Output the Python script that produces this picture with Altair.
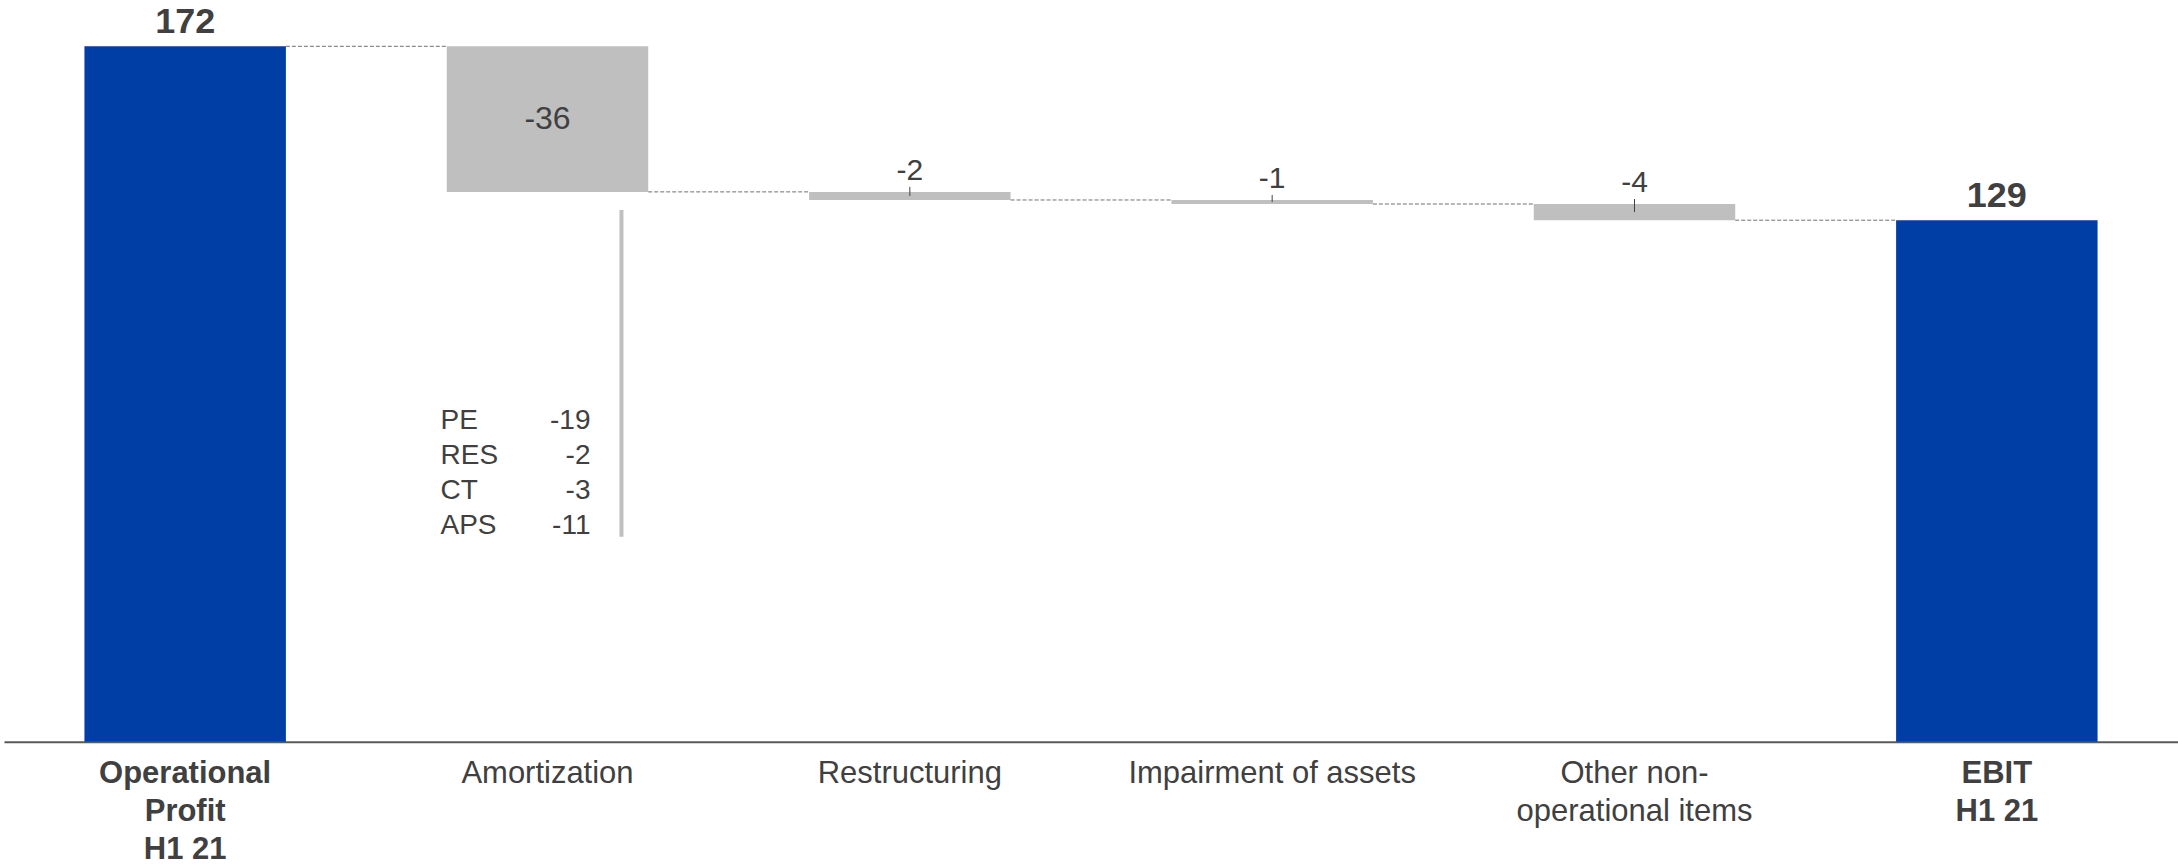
import altair as alt
import pandas as pd

# ---------------- data ----------------
categories = ["Operational\nProfit\nH1 21", "Amortization", "Restructuring",
              "Impairment of assets", "Other non-\noperational items", "EBIT\nH1 21"]
values = [172, -36, -2, -1, -4, 129]
kinds = ["total", "delta", "delta", "delta", "delta", "total"]

breakdown_names = ["PE", "RES", "CT", "APS"]
breakdown_values = [-19, -2, -3, -11]

# ---------------- waterfall table ----------------
rows = []
running = 0
for c, v, k in zip(categories, values, kinds):
    if k == "total":
        start, end = 0, v
    else:
        start, end = running, running + v
    running = end
    rows.append(dict(cat=c, value=v, kind=k, start=start, end=end,
                     top=max(start, end), bottom=min(start, end),
                     mid=(start + end) / 2, label=str(v),
                     inside=(k == "delta" and abs(v) >= 10)))
df = pd.DataFrame(rows)

conn = pd.DataFrame([dict(cat=categories[i], cat_next=categories[i + 1],
                          level=rows[i]["end"]) for i in range(len(rows) - 1)])

# ---------------- layout ----------------
W, H = 2175, 742
YMAX = 183.4
PI = 0.444
PO = PI / 2
step = W / (len(categories) - PI + 2 * PO)
bw = step * (1 - PI)

TXT = "#404040"
FONT = "Liberation Sans"

xenc = alt.X("cat:N", sort=categories,
             scale=alt.Scale(paddingInner=PI, paddingOuter=PO),
             axis=alt.Axis(title=None, labelAngle=0, ticks=False, grid=False,
                           domainColor="#595959", domainWidth=2,
                           labelFontSize=31, labelColor=TXT, labelFont=FONT,
                           labelLineHeight=38, labelPadding=17, labelLimit=1000,
                           labelExpr="split(datum.label, '\\n')",
                           labelFontWeight={"condition": {"test": "indexof(datum.value, 'H1 21') >= 0",
                                                          "value": "bold"},
                                            "value": "normal"}))
yscale = alt.Scale(domain=[0, YMAX], nice=False, zero=True)

base = alt.Chart(df)

bars = base.mark_bar().encode(
    x=xenc,
    y=alt.Y("bottom:Q", scale=yscale, axis=None),
    y2="top:Q",
    color=alt.Color("kind:N", scale=alt.Scale(domain=["total", "delta"],
                                              range=["#003da5", "#bfbfbf"]), legend=None),
)

connectors = alt.Chart(conn).mark_rule(strokeDash=[4, 2], color="#6f6f6f", strokeWidth=1,
                                       xOffset=bw / 2, x2Offset=-bw / 2).encode(
    x=xenc, x2="cat_next:N",
    y=alt.Y("level:Q", scale=yscale, axis=None),
)

total_labels = base.transform_filter("datum.kind == 'total'").mark_text(
    fontSize=36, fontWeight="bold", color=TXT, font=FONT, baseline="alphabetic", dy=-13
).encode(x=xenc, y=alt.Y("top:Q", scale=yscale, axis=None), text="label:N")

inside_labels = base.transform_filter("datum.inside").mark_text(
    fontSize=32, color=TXT, font=FONT, baseline="middle"
).encode(x=xenc, y=alt.Y("mid:Q", scale=yscale, axis=None), text="label:N")

small = base.transform_filter("datum.kind == 'delta' && !datum.inside")
small_labels = small.mark_text(
    fontSize=30, color=TXT, font=FONT, baseline="alphabetic", dy=-12
).encode(x=xenc, y=alt.Y("top:Q", scale=yscale, axis=None), text="label:N")

leaders = small.mark_rule(color=TXT, strokeWidth=1, yOffset=-5).encode(
    x=xenc, y=alt.Y("top:Q", scale=yscale, axis=None), y2="mid:Q")

# ---------------- Amortization breakdown annotation ----------------
ROW_TOP = 77.3   # y (data units) of first row's baseline
ROW_STEP = 8.6
bd = pd.DataFrame(dict(cat=["Amortization"] * len(breakdown_names),
                       name=breakdown_names,
                       val=[str(v) for v in breakdown_values],
                       y=[ROW_TOP - i * ROW_STEP for i in range(len(breakdown_names))]))

bd_names = alt.Chart(bd).mark_text(fontSize=28, color=TXT, font=FONT, align="left",
                                   baseline="alphabetic", dx=-107).encode(
    x=xenc, y=alt.Y("y:Q", scale=yscale, axis=None), text="name:N")
bd_vals = alt.Chart(bd).mark_text(fontSize=28, color=TXT, font=FONT, align="right",
                                  baseline="alphabetic", dx=43).encode(
    x=xenc, y=alt.Y("y:Q", scale=yscale, axis=None), text="val:N")

bracket = pd.DataFrame(dict(cat=["Amortization"], y1=[131.5], y2=[50.7]))
bd_line = alt.Chart(bracket).mark_rule(color="#c0c0c0", strokeWidth=4, xOffset=74).encode(
    x=xenc, y=alt.Y("y1:Q", scale=yscale, axis=None), y2="y2:Q")

chart = alt.layer(bars, connectors, leaders, total_labels, inside_labels, small_labels,
                  bd_line, bd_names, bd_vals).properties(
    width=W, height=H,
    autosize=alt.AutoSizeParams(type="none"),
    padding={"left": 4, "top": 0, "right": 0, "bottom": 123},
).configure_view(stroke=None)

chart.save("out.html", embed_options={"renderer": "svg", "actions": False})
